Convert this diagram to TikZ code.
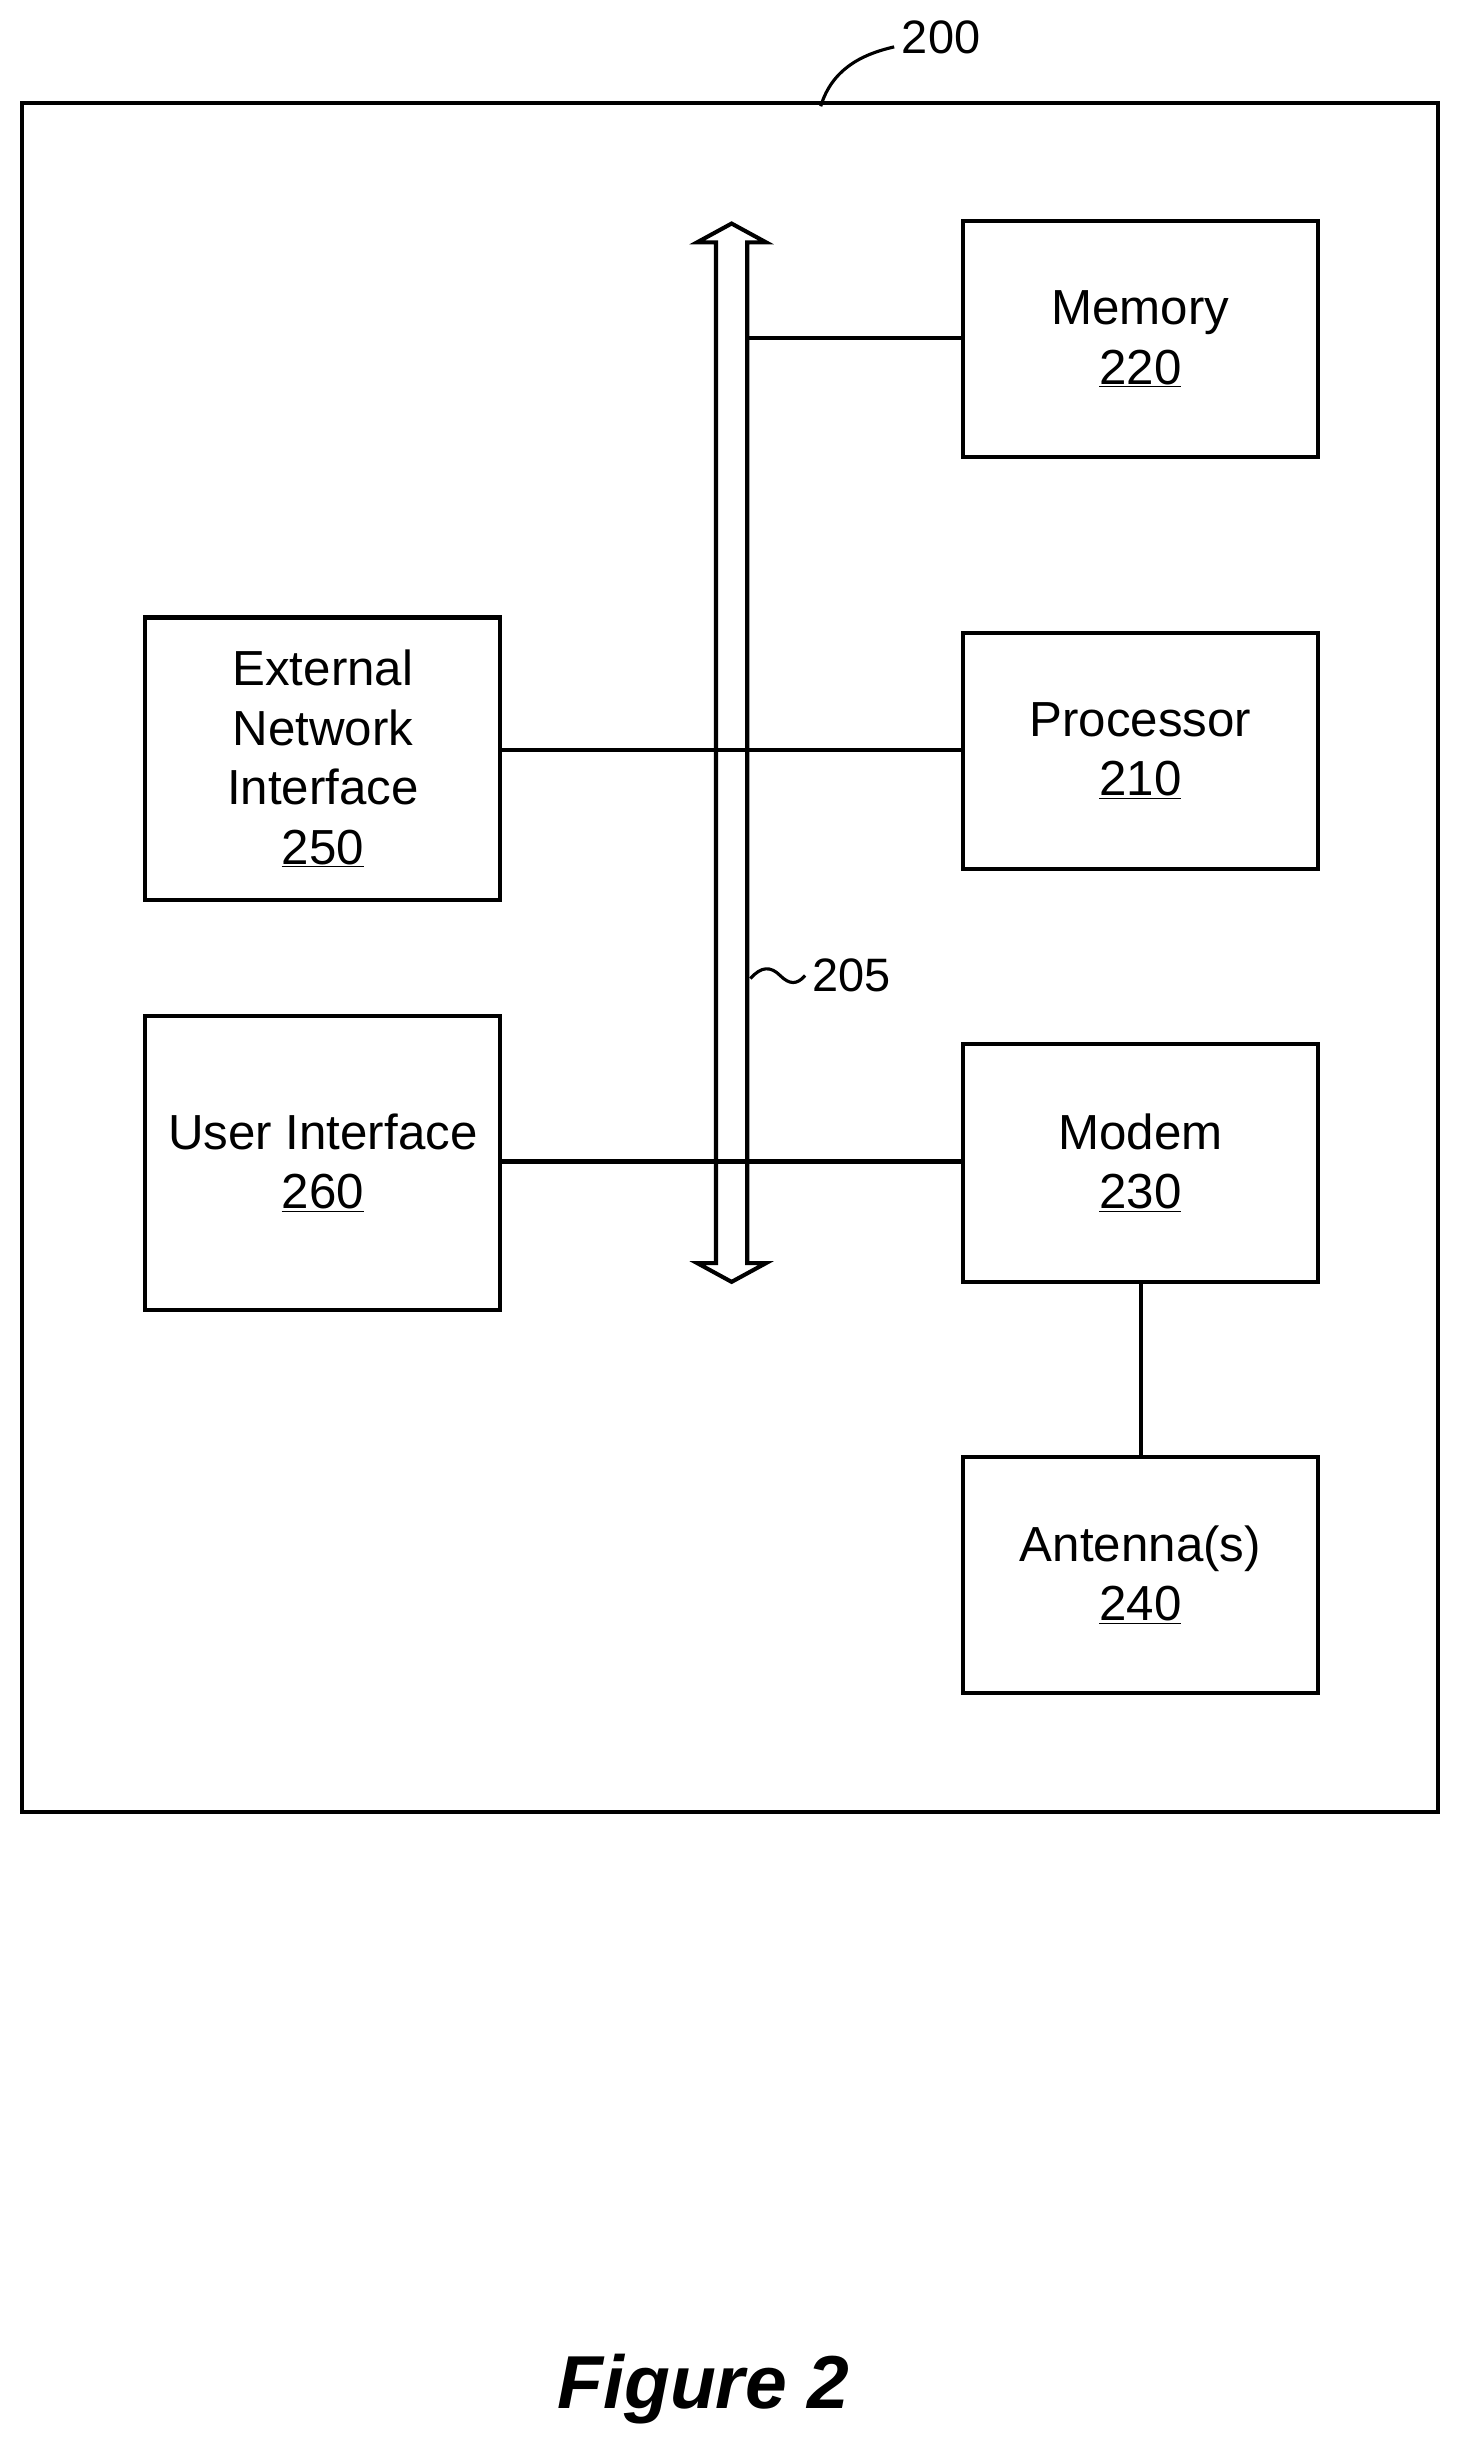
\documentclass[tikz,border=0pt]{standalone}
\usepackage{fontspec}
\setmainfont{Liberation Sans}
\begin{document}
\begin{tikzpicture}[x=1pt,y=-1pt,line width=2.6pt,
  box/.style={draw,minimum width=227pt,minimum height=151pt,align=center,font=\fontsize{31.5}{38}\selectfont,inner sep=0pt},
  lbl/.style={font=\fontsize{30}{32}\selectfont}]
\useasboundingbox (0,0) rectangle (937,1573);
\draw (14,66) rectangle (920,1159);
\node[lbl] (n200) at (602,24) {200};
\coordinate (c200) at (525,68);
\draw[line width=2pt] (c200) .. controls (532,45) and (550,35) .. (572,30);
% bus
\draw[fill=white,line join=miter] (468,143)--(490,155)--(478,155)--(478,808)--(490,808)--(468,820)--(446,808)--(458,808)--(458,155)--(446,155)--cycle;
\coordinate (busR1) at (478,216);
\node[box] (mem) at (729.5,217) {Memory\\\underline{220}};
\node[box,minimum height=151pt] (proc) at (729.5,480.5) {Processor\\\underline{210}};
\node[box,minimum height=152pt] (modem) at (729.5,744) {Modem\\\underline{230}};
\node[box] (ant) at (729.5,1007.5) {Antenna(s)\\\underline{240}};
\node[box,minimum height=181pt] (ext) at (206.5,485.5) {External\\Network\\Interface\\\underline{250}};
\node[box,minimum height=188pt] (ui) at (206.5,744) {User Interface\\\underline{260}};
\draw (busR1) -- (mem.west|-busR1);
\draw (ext.east|-0,480) -- (proc.west|-0,480);
\draw (ui.east|-0,743) -- (modem.west|-0,743);
\draw (modem.south-|730,0) -- (ant.north-|730,0);
\coordinate (b205) at (480,626);
\node[lbl,anchor=west] (n205) at (515,624) {205};
\draw[line width=2pt] (b205) .. controls (487,618) and (493,618) .. (499,624) .. controls (505,630) and (510,630) .. (n205.west);
\node[font=\fontsize{48}{52}\selectfont\bfseries\itshape] (fig) at (450,1528) {Figure 2};
\end{tikzpicture}
\end{document}
